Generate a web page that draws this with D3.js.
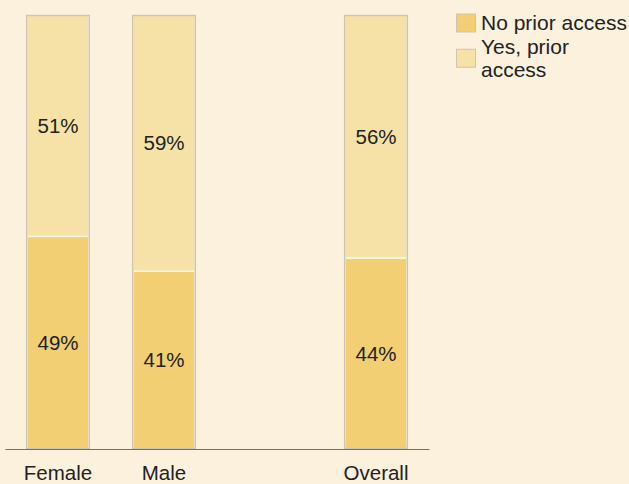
<!DOCTYPE html>
<html>
<head>
<meta charset="utf-8">
<script src="https://cdn.jsdelivr.net/npm/d3@7"></script>
<style>
  html, body { margin: 0; padding: 0; background: #fcf1dc; }
  svg { display: block; }
  text { font-family: Arial, "Liberation Sans", sans-serif; fill: #222; }
</style>
</head>
<body>
<svg id="chart" width="629" height="484"></svg>
<script>
// Share of respondents by prior access, per group (percent)
const categories = ["Female", "Male", "Overall"];
const noPrior = [49, 41, 44];
const yesPrior = [51, 59, 56];
const seriesNames = ["No prior access", "Yes, prior access"];
const legendLines = [["No prior access"], ["Yes, prior", "access"]];

const colors = { no: "#f2cf72", yes: "#f6e2a6" };

const svg = d3.select("#chart");
const W = 629, H = 484;
svg.append("rect").attr("width", W).attr("height", H).attr("fill", "#fcf1dc");

// A blank slot sits between the gender groups and the overall bar
const GAP = "__gap__";
const domain = [categories[0], categories[1], GAP, categories[2]];

const x = d3.scaleBand().domain(domain).range([5, 429])
  .paddingInner(0.4).paddingOuter(0.2);
const y = d3.scaleLinear().domain([0, 100]).range([449, 15]);

const rows = categories.map((c, i) => ({ cat: c, no: noPrior[i], yes: yesPrior[i] }));
const stack = d3.stack().keys(["no", "yes"])(rows);

const g = svg.append("g");

// stacked segments
stack.forEach(layer => {
  g.selectAll(null).data(layer).enter().append("rect")
    .attr("x", d => x(d.data.cat) + 1)
    .attr("width", x.bandwidth() - 2)
    .attr("y", d => y(d[1]))
    .attr("height", d => y(d[0]) - y(d[1]))
    .attr("fill", colors[layer.key])
    .attr("stroke", "#fdf5e2")
    .attr("stroke-width", 1.5);
});

// outer bar outline
g.selectAll(null).data(rows).enter().append("rect")
  .attr("x", d => x(d.cat) + 0.5)
  .attr("width", x.bandwidth() - 1)
  .attr("y", y(100) + 0.5)
  .attr("height", y(0) - y(100) - 1)
  .attr("fill", "none")
  .attr("stroke", "#cdc5ae")
  .attr("stroke-width", 1.5);

// value labels centred in each segment
stack.forEach(layer => {
  g.selectAll(null).data(layer).enter().append("text")
    .attr("x", d => x(d.data.cat) + x.bandwidth() / 2)
    .attr("y", d => (y(d[0]) + y(d[1])) / 2)
    .attr("dy", "0.36em")
    .attr("text-anchor", "middle")
    .attr("font-size", 20.5)
    .text(d => (d[1] - d[0]) + "%");
});

// x axis
const xAxis = d3.axisBottom(x).tickValues(categories).tickSize(0).tickPadding(0);
const ax = svg.append("g").attr("transform", `translate(0,${y(0)})`).call(xAxis);
ax.select(".domain").attr("stroke", "#76705f").attr("stroke-width", 1.2);
ax.selectAll(".tick text")
  .attr("font-size", 20.5)
  .attr("font-family", "Arial, 'Liberation Sans', sans-serif")
  .attr("fill", "#222")
  .attr("dy", null)
  .attr("y", 31);

// legend
const legend = svg.append("g");
const lineH = 23.5;
const swatchColors = [colors.no, colors.yes];
let yCursor = 30;
legendLines.forEach((lines, i) => {
  const first = yCursor;
  const last = yCursor + (lines.length - 1) * lineH;
  const centre = (first - 15 + last) / 2 + 0.5;
  legend.append("rect")
    .attr("x", 456.5).attr("y", centre - 9)
    .attr("width", 19).attr("height", 18)
    .attr("fill", swatchColors[i])
    .attr("stroke", "#cdc5ae").attr("stroke-width", 1);
  lines.forEach((t, j) => {
    legend.append("text")
      .attr("x", 481).attr("y", yCursor + j * lineH)
      .attr("font-size", 21)
      .text(t);
  });
  yCursor += lines.length * lineH;
});
</script>
</body>
</html>
